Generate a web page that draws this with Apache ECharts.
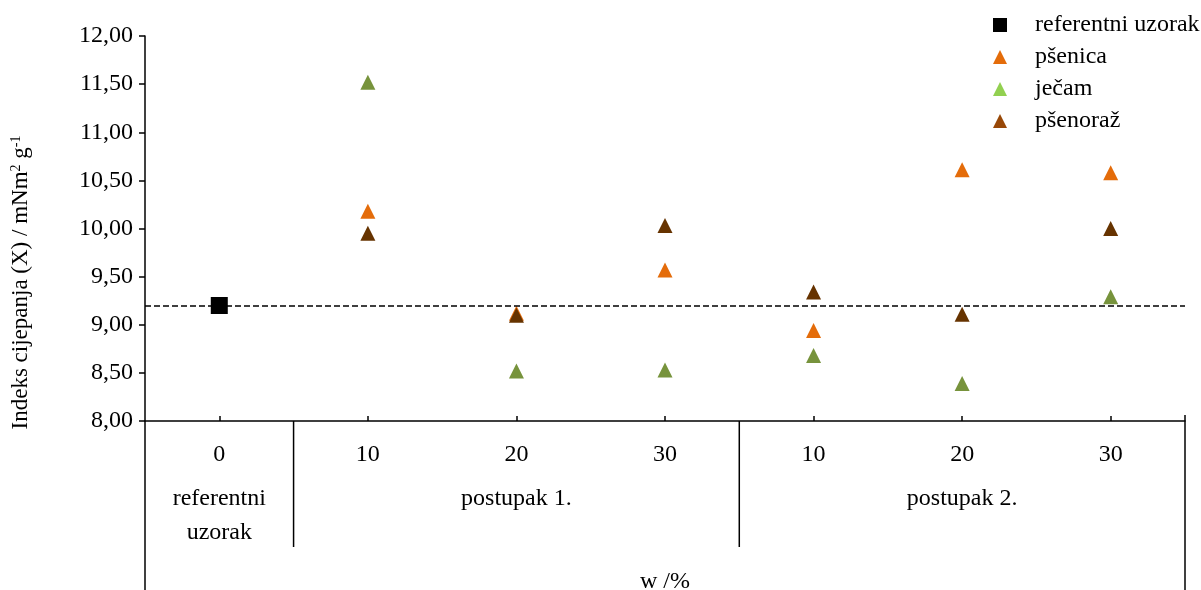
<!DOCTYPE html>
<html><head><meta charset="utf-8">
<script src="https://cdn.jsdelivr.net/npm/echarts@6/dist/echarts.min.js"></script>
<style>html,body{margin:0;padding:0;background:#fff}#c{width:1201px;height:590px}</style>
</head><body><div id="c"></div>
<script>
// ---- data ----
const categories = ['0', '10', '20', '30', '10', '20', '30'];
const groupLabels = ['referentni\nuzorak', '', 'postupak 1.', '', '', 'postupak 2.', ''];
const seriesNames = ['referentni uzorak', 'pšenica', 'ječam', 'pšenoraž'];
const referentni = [9.20, null, null, null, null, null, null];
const psenica    = [null, 10.18, 9.12, 9.57, 8.94, 10.61, 10.58];
const jecam      = [null, 11.52, 8.52, 8.53, 8.68, 8.39, 9.29];
const psenoraz   = [null, 9.95, 9.10, 10.03, 9.34, 9.11, 10.00];
const referenceLine = 9.20;
const yMin = 8, yMax = 12, yStep = 0.5;
const xTitle = 'w /%';
const yTitle = 'Indeks cijepanja (X) / mNm{sup|2} g{sup|-1}';

const FONT = 'Liberation Serif, Times New Roman, serif';
const chart = echarts.init(document.getElementById('c'), null, {renderer: 'canvas'});

const option = {
  animation: false,
  backgroundColor: '#fff',
  textStyle: {fontFamily: FONT, color: '#000'},
  grid: {left: 145, right: 16, top: 36, bottom: 169, containLabel: false, outerBoundsMode: 'none'},
  legend: {
    orient: 'vertical', left: 988, top: 8, itemWidth: 14, itemHeight: 14, itemGap: 8,
    textStyle: {fontFamily: FONT, fontSize: 24, color: '#000', padding: [0, 0, 0, 23]},
    data: [
      {name: seriesNames[0], icon: 'rect', itemStyle: {color: '#000', opacity: 1}},
      {name: seriesNames[1], icon: 'triangle', itemStyle: {color: '#E46C0A', opacity: 1}},
      {name: seriesNames[2], icon: 'triangle', itemStyle: {color: '#92D050', opacity: 1}},
      {name: seriesNames[3], icon: 'triangle', itemStyle: {color: '#984807', opacity: 1}}
    ]
  },
  xAxis: [
    {
      type: 'category', data: categories, boundaryGap: true,
      name: xTitle, nameLocation: 'middle', nameGap: 149,
      nameTextStyle: {fontFamily: FONT, fontSize: 24, color: '#000'},
      axisLine: {lineStyle: {color: '#000', width: 1.5}},
      axisTick: {show: true, inside: true, alignWithLabel: true, length: 5, lineStyle: {color: '#000', width: 1.5}},
      axisLabel: {interval: 0, margin: 22, fontFamily: FONT, fontSize: 24, color: '#000'},
      splitLine: {show: false}
    },
    {
      type: 'category', data: groupLabels, boundaryGap: true, position: 'bottom',
      axisLine: {show: false}, axisTick: {show: false}, splitLine: {show: false},
      axisLabel: {interval: 0, margin: 61, lineHeight: 34, fontFamily: FONT, fontSize: 24, color: '#000'}
    }
  ],
  yAxis: {
    type: 'value', min: yMin, max: yMax, interval: yStep,
    name: yTitle, nameLocation: 'middle', nameRotate: 90, nameGap: 113,
    nameTextStyle: {
      fontFamily: FONT, fontSize: 23, color: '#000', padding: [0, 108, 0, 0],
      rich: {sup: {fontFamily: FONT, fontSize: 14, color: '#000', verticalAlign: 'top'}}
    },
    axisLine: {show: true, lineStyle: {color: '#000', width: 1.5}},
    axisTick: {show: true, length: 6, lineStyle: {color: '#000', width: 1.5}},
    axisLabel: {margin: 12, fontFamily: FONT, fontSize: 24, color: '#000',
      formatter: v => v.toFixed(2).replace('.', ',')},
    splitLine: {show: false}
  },
  series: [
    {name: seriesNames[0], type: 'scatter', data: referentni, symbol: 'rect', symbolSize: 17,
      itemStyle: {color: '#000', opacity: 1}, z: 3,
      markLine: {silent: true, symbol: 'none', label: {show: false},
        lineStyle: {color: '#000', type: [6, 3], width: 1.5, opacity: 1},
        data: [{yAxis: referenceLine}]}},
    {name: seriesNames[1], type: 'scatter', data: psenica, symbol: 'triangle', symbolSize: 15,
      itemStyle: {color: '#E46C0A', opacity: 1}, z: 4},
    {name: seriesNames[2], type: 'scatter', data: jecam, symbol: 'triangle', symbolSize: 15,
      itemStyle: {color: '#77933C', opacity: 1}, z: 4},
    {name: seriesNames[3], type: 'scatter', data: psenoraz, symbol: 'triangle', symbolSize: 15,
      itemStyle: {color: '#663300', opacity: 1}, z: 4}
  ]
};
chart.setOption(option);

// structural separator lines derived from the axis scales
const xa = i => chart.convertToPixel({xAxisIndex: 0}, i);
const band = xa(1) - xa(0);
const edge = i => xa(0) + (i - 0.5) * band;
const yb = chart.convertToPixel({yAxisIndex: 0}, yMin);
const H = 590;
const ln = (x, y1, y2) => ({type: 'line', shape: {x1: x, y1: y1, x2: x, y2: y2},
  style: {stroke: '#000', lineWidth: 1.5}, silent: true});
chart.setOption({graphic: [
  ln(edge(0), yb, H),
  ln(edge(1), yb, yb + 126),
  ln(edge(4), yb, yb + 126),
  ln(edge(categories.length), yb - 6, H)
]});
</script></body></html>
